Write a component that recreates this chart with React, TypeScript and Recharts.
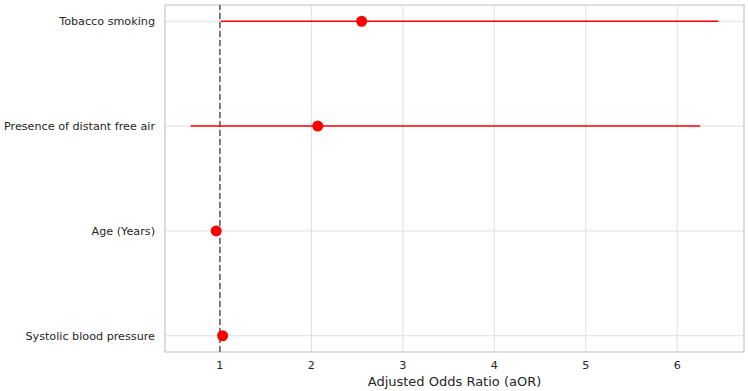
import { ComposedChart, Scatter, XAxis, YAxis, CartesianGrid, ReferenceLine, ReferenceArea } from 'recharts';

const factors = ['Tobacco smoking', 'Presence of distant free air', 'Age (Years)', 'Systolic blood pressure'];
const aor = [2.55, 2.07, 0.96, 1.03];
const ciLow = [1.01, 0.68, 0.93, 1.0];
const ciHigh = [6.45, 6.25, 0.99, 1.06];
const xTicks = [1, 2, 3, 4, 5, 6];

const data = factors.map((name, i) => ({ name, row: i, aor: aor[i], low: ciLow[i], high: ciHigh[i] }));

const X_DOMAIN: [number, number] = [0.4, 6.73];
const Y_DOMAIN: [number, number] = [-0.155, 3.155];
const font = 'DejaVu Sans, sans-serif';

const Dot = (props: any) => <circle cx={props.cx} cy={props.cy} r={5.5} fill="#ff0000" />;

const FactorTick = (props: any) => (
  <text x={props.x - 2} y={props.y} dy={4} textAnchor="end" fontSize={11.2} fill="#262626" fontFamily={font}>
    {factors[props.payload.value]}
  </text>
);

export default function App() {
  return (
    <div style={{ position: 'fixed', left: 0, top: 0, width: 748, height: 391, background: '#fff' }}>
      <ComposedChart width={748} height={391} data={data} margin={{ top: 5, right: 4, bottom: 0, left: 0 }}>
        <CartesianGrid stroke="#dedede" strokeWidth={1} />
        <ReferenceArea
          x1={X_DOMAIN[0]}
          x2={X_DOMAIN[1]}
          y1={Y_DOMAIN[0]}
          y2={Y_DOMAIN[1]}
          fill="none"
          stroke="#cfcfcf"
          strokeWidth={1.2}
          ifOverflow="visible"
        />
        <XAxis
          type="number"
          dataKey="aor"
          domain={X_DOMAIN}
          ticks={xTicks}
          allowDataOverflow
          axisLine={false}
          tickLine={false}
          height={39}
          tick={{ fontSize: 11.2, fill: '#262626', fontFamily: font }}
          tickMargin={3}
          label={{ value: 'Adjusted Odds Ratio (aOR)', position: 'insideBottom', offset: 5, fontSize: 13, fill: '#262626', fontFamily: font }}
        />
        <YAxis
          type="number"
          dataKey="row"
          domain={Y_DOMAIN}
          ticks={[0, 1, 2, 3]}
          reversed
          allowDataOverflow
          width={165}
          axisLine={false}
          tickLine={false}
          tick={FactorTick}
        />
        <ReferenceLine x={1} stroke="#5a5a5a" strokeDasharray="6 3" strokeWidth={1.5} />
        {data.map(d => (
          <ReferenceLine
            key={d.name}
            segment={[{ x: d.low, y: d.row }, { x: d.high, y: d.row }]}
            stroke="#ff0000"
            strokeWidth={1.5}
          />
        ))}
        <Scatter dataKey="row" fill="#ff0000" shape={Dot} isAnimationActive={false} />
      </ComposedChart>
    </div>
  );
}
